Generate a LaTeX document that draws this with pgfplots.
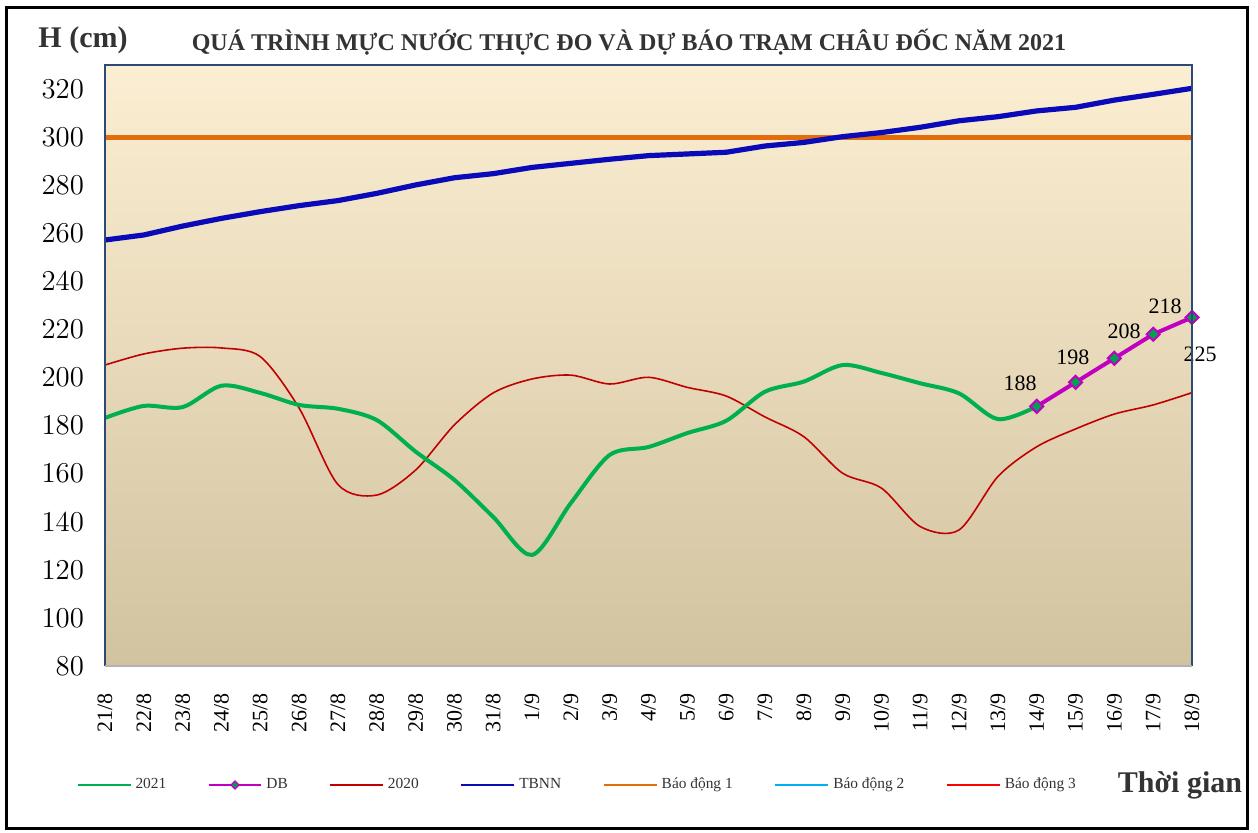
\documentclass[border=0pt]{standalone}
\usepackage{fontspec}
\setmainfont{Liberation Serif}
\usepackage{pgfplots}
\pgfplotsset{compat=1.18}
\definecolor{cGreen}{HTML}{00B050}
\definecolor{cRed}{HTML}{C00000}
\definecolor{cNavy}{HTML}{0A0AB8}
\definecolor{cOrange}{HTML}{E46C0A}
\definecolor{cMag}{HTML}{C000C0}
\definecolor{cMarkFill}{HTML}{00A050}
\definecolor{cCyan}{HTML}{00B0F0}
\definecolor{cBright}{HTML}{FF0000}
\definecolor{cFrame}{HTML}{2B4A75}
\definecolor{bgTop}{HTML}{FCEED2}
\definecolor{bgMid}{HTML}{F3EBD6}
\definecolor{bgBot}{HTML}{D1C39F}
\definecolor{txt}{HTML}{333333}
\begin{document}
\begin{tikzpicture}
\path[use as bounding box] (0pt,0pt) rectangle (629pt,416pt);
\begin{axis}[
  at={(52.5pt,83pt)}, anchor=south west, scale only axis,
  width=543.5pt, height=300.5pt,
  xmin=0, xmax=28, ymin=80, ymax=330,
  clip mode=individual,
  axis line style={draw=none},
  axis background/.style={top color=bgTop, middle color=bgMid, bottom color=bgBot},
  major tick length=0pt,
  ytick={80,100,...,320},
  yticklabel style={font=\fontsize{13.5}{15}\selectfont, xshift=-7pt},
  xtick={0,...,28},
  xticklabels={21/8,22/8,23/8,24/8,25/8,26/8,27/8,28/8,29/8,30/8,31/8,1/9,2/9,3/9,4/9,5/9,6/9,7/9,8/9,9/9,10/9,11/9,12/9,13/9,14/9,15/9,16/9,17/9,18/9},
  xticklabel style={font=\fontsize{11}{13}\selectfont, rotate=90, anchor=east, xshift=-10pt},
  legend columns=7,
  legend style={at={(-0.032,-0.198)}, anchor=west, draw=none, fill=none,
    font=\fontsize{7.7}{9}\selectfont, text=txt,
    /tikz/every even column/.append style={column sep=18.6pt}},
  legend image code/.code={\draw[mark repeat=2,mark phase=2] plot coordinates {(0cm,0cm) (0.465cm,0cm) (0.93cm,0cm)};},
]
% Bao dong 2 and 3 (outside the plotted range)
\addplot[cCyan, line width=2.5pt, forget plot] coordinates {(0,350) (28,350)};
\addplot[cBright, line width=2.5pt, forget plot] coordinates {(0,400) (28,400)};
% Bao dong 1
\addplot[cOrange, line width=2.6pt, forget plot] coordinates {(0,300) (28,300)};
% TBNN
\addplot[cNavy, line width=2.6pt, forget plot] coordinates {
(0,257.2) (1,259.3) (2,263.0) (3,266.2) (4,269.0) (5,271.5) (6,273.6) (7,276.6) (8,280.1) (9,283.1) (10,284.8)
(11,287.4) (12,289.1) (13,290.8) (14,292.3) (15,293.0) (16,293.7) (17,296.3) (18,297.8) (19,300.2) (20,301.9)
(21,304.1) (22,306.8) (23,308.5) (24,310.9) (25,312.4) (26,315.4) (27,317.8) (28,320.3)};
% 2020
\addplot[cRed, line width=0.8pt, smooth, forget plot] coordinates {
(0,205.2) (1,209.8) (2,212.2) (3,212.3) (4,208.7) (5,187.3) (6,155.5) (7,151.1) (8,161.5) (9,180.3) (10,193.6)
(11,199.4) (12,201.0) (13,197.3) (14,200.1) (15,195.9) (16,192.3) (17,183.6) (18,175.4) (19,160.2) (20,154.0)
(21,138.0) (22,136.6) (23,158.8) (24,171.2) (25,178.6) (26,184.8) (27,188.6) (28,193.7)};
% 2021
\addplot[cGreen, line width=2pt, smooth, forget plot] coordinates {
(0,183.2) (1,188.2) (2,187.7) (3,196.6) (4,193.6) (5,188.6) (6,187.0) (7,182.3) (8,169.2) (9,157.4) (10,142.0)
(11,126.2) (12,147.8) (13,167.8) (14,171.1) (15,176.9) (16,182.0) (17,194.1) (18,198.3) (19,205.2) (20,201.9)
(21,197.6) (22,193.4) (23,182.7) (24,188)};
% DB
\addplot[cMag, line width=2pt, mark=square*, mark size=2.3pt,
  mark options={rotate=45, fill=cMarkFill, draw=cMag, line width=1pt}, forget plot] coordinates {
(24,188) (25,198) (26,208) (27,218) (28,225)};
\node[font=\fontsize{11}{13}\selectfont] at (axis cs:23.57,197.7) {188};
\node[font=\fontsize{11}{13}\selectfont] at (axis cs:24.93,208.5) {198};
\node[font=\fontsize{11}{13}\selectfont] at (axis cs:26.25,219.1) {208};
\node[font=\fontsize{11}{13}\selectfont] at (axis cs:27.31,229.5) {218};
\node[font=\fontsize{11}{13}\selectfont] at (axis cs:28.21,209.8) {225};
% frame
\draw[cFrame, line width=1pt] (rel axis cs:0,0) -- (rel axis cs:0,1) -- (rel axis cs:1,1) -- (rel axis cs:1,0);
\draw[gray!60, line width=1pt] (rel axis cs:0,0) -- (rel axis cs:1,0);
% legend
\addlegendimage{cGreen, line width=1pt}
\addlegendentry{2021}
\addlegendimage{cMag, line width=1pt, mark=square*, mark size=1.4pt, mark options={rotate=45, fill=cMarkFill, draw=cMag, line width=0.6pt}}
\addlegendentry{DB}
\addlegendimage{cRed, line width=1pt}
\addlegendentry{2020}
\addlegendimage{cNavy, line width=1.2pt}
\addlegendentry{TBNN}
\addlegendimage{cOrange, line width=1.2pt}
\addlegendentry{Báo động 1}
\addlegendimage{cCyan, line width=1.2pt}
\addlegendentry{Báo động 2}
\addlegendimage{cBright, line width=1.2pt}
\addlegendentry{Báo động 3}
\end{axis}
\draw[line width=1.5pt, black] (3.2pt,2pt) rectangle (623.8pt,412pt);
\node[font=\fontsize{15}{17}\selectfont\bfseries, text=txt] at (41.5pt,396pt) {H (cm)};
\node[font=\fontsize{12}{14}\selectfont\bfseries, text=txt] at (314.5pt,395pt) {QUÁ TRÌNH MỰC NƯỚC THỰC ĐO VÀ DỰ BÁO TRẠM CHÂU ĐỐC NĂM 2021};
\node[font=\fontsize{15}{17}\selectfont\bfseries, text=txt] at (590pt,23.5pt) {Thời gian};
\end{tikzpicture}
\end{document}
